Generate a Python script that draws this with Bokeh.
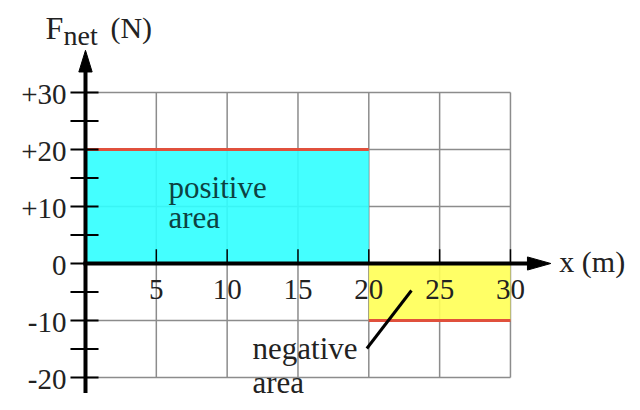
from bokeh.plotting import figure
from bokeh.models import Range1d
from bokeh.embed import file_html
from bokeh.resources import INLINE
from bokeh.core.properties import value

# ---- data ----
x_ticks = [5, 10, 15, 20, 25, 30]
x_tick_labels = ["5", "10", "15", "20", "25", "30"]
y_major = [30, 20, 10, 0, -10, -20]
y_major_labels = ["+30", "+20", "+10", "0", "-10", "-20"]
y_minor = [25, 15, 5, -5, -15]
grid_x = [5, 10, 15, 20, 25, 30]
grid_y = [30, 20, 10, -10, -20]
x_min, x_max = 0, 30
y_min, y_max = -20, 30

# force segments: (x start, x end, force)
seg_x0 = [0, 20]
seg_x1 = [20, 30]
seg_force = [20, -10]
area_colors = ["#30ffff", "#ffff55"]

FONT = value("'Liberation Serif', 'Times New Roman', Times, serif")

p = figure(width=640, height=410, output_backend="svg", toolbar_location=None,
           x_range=Range1d(-6.0, 39.18), y_range=Range1d(-25.79, 46.14),
           min_border=0, outline_line_color=None)
p.axis.visible = False
p.grid.visible = False

# grid
p.segment(x0=grid_x, y0=[y_min] * len(grid_x), x1=grid_x, y1=[y_max] * len(grid_x),
          line_color="#8c8c8c", line_width=1.5)
p.segment(x0=[x_min] * len(grid_y), y0=grid_y, x1=[x_max] * len(grid_y), y1=grid_y,
          line_color="#8c8c8c", line_width=1.5)

# areas
bottoms = [min(0, f) for f in seg_force]
tops = [max(0, f) for f in seg_force]
p.quad(left=seg_x0, right=seg_x1, bottom=bottoms, top=tops,
       fill_color=area_colors, fill_alpha=0.9, line_color=None)
p.segment(x0=seg_x0, y0=seg_force, x1=seg_x1, y1=seg_force,
          line_color="#e0503c", line_width=3)

# y ticks (crossing the axis)
yt = y_major + y_minor
p.segment(x0=[-1.06] * len(yt), y0=yt, x1=[0.92] * len(yt), y1=yt,
          line_color="black", line_width=2)
# x ticks (above the axis)
p.segment(x0=x_ticks, y0=[0] * len(x_ticks), x1=x_ticks, y1=[2.5] * len(x_ticks),
          line_color="black", line_width=1.5)

# axes lines
y_axis_bottom, y_axis_top = -22.7, 34.0
x_axis_left, x_axis_right = -0.15, 31.3
p.segment(x0=[0], y0=[y_axis_bottom], x1=[0], y1=[y_axis_top], line_color="black", line_width=4)
p.segment(x0=[x_axis_left], y0=[0], x1=[x_axis_right], y1=[0], line_color="black", line_width=4)
# arrow heads
ytip = 37.4
p.patch(x=[-0.47, 0, 0.47], y=[ytip - 3.8, ytip, ytip - 3.8], color="black")
xtip = 32.85
p.patch(x=[xtip - 1.65, xtip, xtip - 1.65], y=[1.15, 0, -1.15], color="black")

# tick labels
p.text(x=[-1.34] * len(y_major), y=y_major, text=y_major_labels, text_font=FONT,
       text_font_size="29px", text_align="right", text_baseline="middle",
       text_color="#222222", y_offset=2)
p.text(x=x_ticks, y=[-4.6] * len(x_ticks), text=x_tick_labels, text_font=FONT,
       text_font_size="29px", text_align="center", text_baseline="middle",
       text_color="#222222")

# axis titles
p.text(x=[33.45], y=[0.3], text=["x (m)"], text_font=FONT, text_font_size="30px",
       text_align="left", text_baseline="middle", text_color="#222222")
p.text(x=[-2.82], y=[41.4], text=["F"], text_font=FONT, text_font_size="32px",
       text_align="left", text_baseline="alphabetic", text_color="#222222")
p.text(x=[-1.55], y=[40.0], text=["net"], text_font=FONT, text_font_size="28px",
       text_align="left", text_baseline="alphabetic", text_color="#222222")
p.text(x=[1.76], y=[41.4], text=["(N)"], text_font=FONT, text_font_size="30px",
       text_align="left", text_baseline="alphabetic", text_color="#222222")

# annotations
p.text(x=[5.86, 5.86], y=[13.33, 8.07], text=["positive", "area"], text_font=FONT,
       text_font_size="31px", text_align="left", text_baseline="alphabetic",
       text_color="#0d4242")
p.text(x=[11.79, 11.79], y=[-14.92, -20.88], text=["negative", "area"], text_font=FONT,
       text_font_size="31px", text_align="left", text_baseline="alphabetic",
       text_color="#222222")
p.segment(x0=[19.86], y0=[-14.91], x1=[23.01], y1=[-4.74], line_color="black", line_width=3)

open("out.html", "w").write(file_html(p, INLINE))
